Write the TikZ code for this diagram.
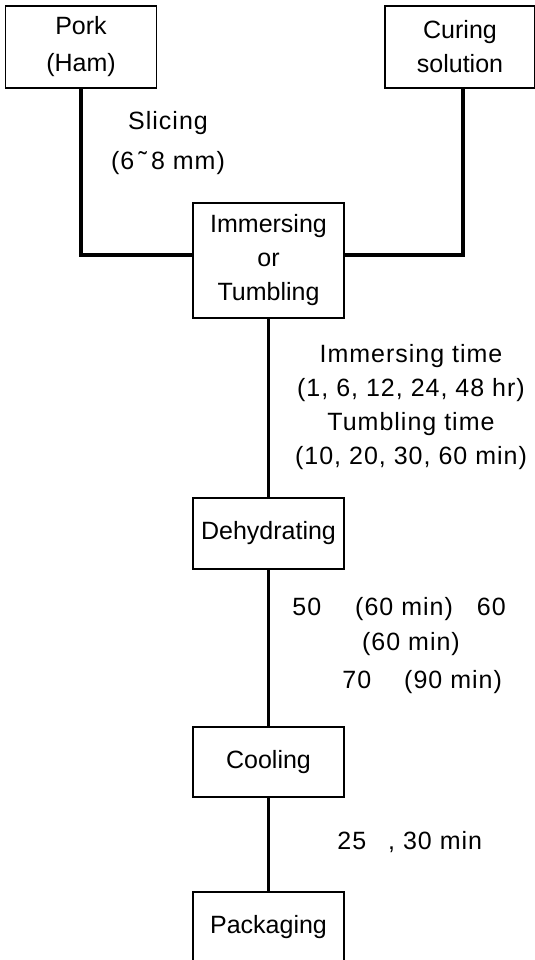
\documentclass[tikz,border=0pt]{standalone}
\usepackage{fontspec}
\setmainfont{Liberation Sans}

\begin{document}
\begin{tikzpicture}[x=0.5pt,y=-0.5pt,
		every node/.style={font=\fontsize{12.5}{17}\selectfont},
		box/.style={draw,line width=0.9pt,minimum width=75.5pt,align=center,inner sep=0pt},
		link/.style={line width=1.6pt},
		note/.style={align=center,inner sep=0pt,font=\fontsize{12.5}{17}\selectfont\addfontfeature{LetterSpace=4}}]
				\useasboundingbox (0,0) rectangle (535,960);

				\node[box,minimum height=41pt] (pork) at (81,47) {Pork\\[1.5pt](Ham)};
				\node[box,minimum height=41pt,minimum width=75pt] (curing) at (460,47) {Curing\\solution};
				\node[box,minimum height=57.5pt] (imm) at (268.5,260.5) {Immersing\\or\\Tumbling};
				\node[box,minimum height=35.5pt] (dehyd) at (268.5,533.5) {Dehydrating};
				\node[box,minimum height=35pt] (cool) at (268.5,762) {Cooling};
				\node[box,minimum height=35pt] (pack) at (268.5,927) {Packaging};

				\draw[link] (pork.south) |- ([yshift=2.75pt]imm.west);
				\draw[link] ([xshift=1.5pt]curing.south) |- ([yshift=2.75pt]imm.east);
				\draw[link] (imm) -- (dehyd) -- (cool) -- (pack);

				\node[note] (slice) at (168,143) {Slicing\\[3pt](6\,˜\,8 mm)};
				\node[note] (soak) at (411,407) {Immersing time\\(1, 6, 12, 24, 48 hr)\\Tumbling time\\(10, 20, 30, 60 min)};
				\node[note,anchor=west] (dry1) at (292,609) {50\hspace{17pt}(60 min)\hspace{12pt}60};
				\node[note] (dry2) at (411,644) {(60 min)};
				\node[note,anchor=west] (dry3) at (342,682) {70\hspace{16.5pt}(90 min)};
				\node[note,anchor=west] (chill) at (337,842) {25\hspace{11pt}, 30 min};
			\end{tikzpicture}
\end{document}
